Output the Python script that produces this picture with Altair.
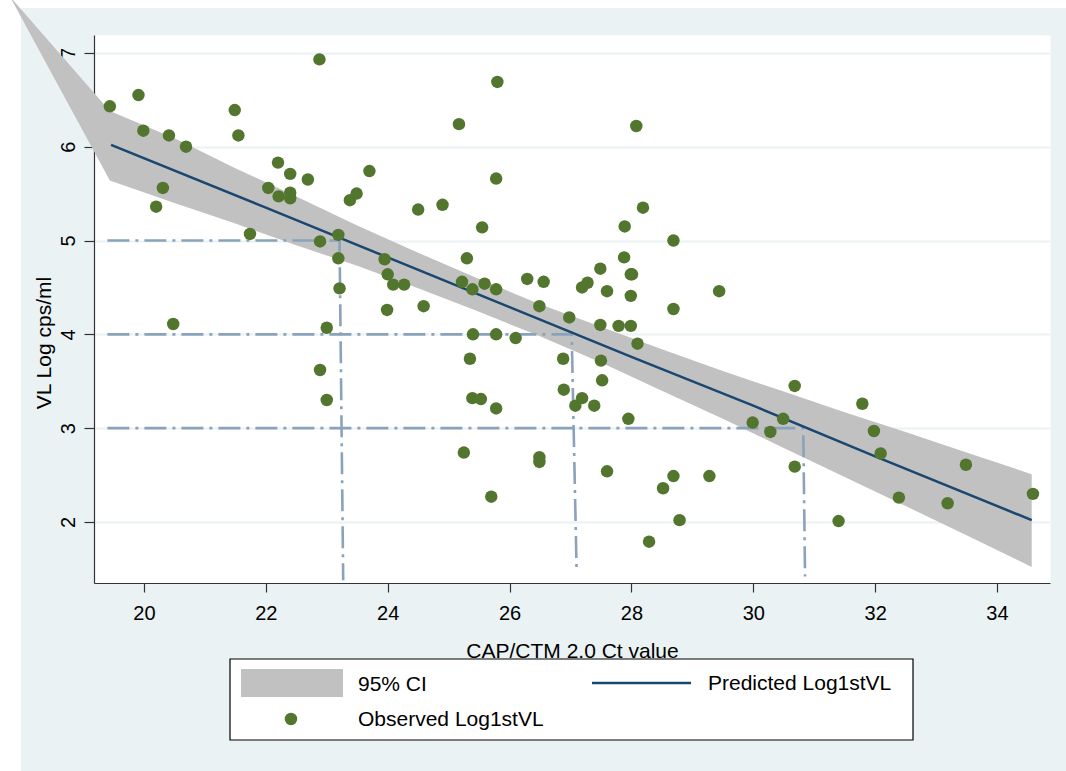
import altair as alt
import pandas as pd

# ---- observed points (Ct value, log viral load) ----
ct_values = [19.44, 19.91, 19.99, 20.41, 20.69, 20.31, 20.20, 20.48, 21.49, 21.55,
             21.74, 22.20, 22.40, 22.04, 22.21, 22.40, 22.40, 22.69, 22.88, 23.19,
             22.89, 23.19, 23.21, 23.00, 22.89, 23.00, 23.38, 23.49, 23.70, 24.50,
             24.90, 25.17, 25.80, 25.78, 25.55, 25.30, 23.95, 24.00, 24.09, 24.27,
             25.22, 25.39, 25.59, 25.78, 26.29, 26.56, 27.19, 27.28, 27.49, 27.60,
             27.88, 27.89, 27.99, 28.01, 27.99, 28.19, 28.08, 28.69, 23.99, 24.59,
             25.40, 25.78, 26.10, 26.49, 26.98, 25.35, 25.39, 25.53, 25.78, 26.88,
             26.89, 27.08, 27.19, 27.39, 27.49, 27.79, 27.99, 28.10, 27.50, 27.52,
             27.95, 28.69, 25.25, 26.49, 26.49, 25.70, 27.60, 28.69, 28.52, 28.79,
             28.29, 29.28, 29.44, 29.99, 30.28, 30.49, 30.68, 30.68, 31.40, 31.79,
             31.98, 32.09, 32.39, 33.19, 33.49, 34.59]
vl_values = [6.43, 6.55, 6.17, 6.12, 6.00, 5.56, 5.36, 4.11, 6.39, 6.12,
             5.07, 5.83, 5.71, 5.56, 5.47, 5.51, 5.45, 5.65, 6.93, 5.06,
             4.99, 4.81, 4.49, 4.07, 3.62, 3.30, 5.43, 5.50, 5.74, 5.33,
             5.38, 6.24, 6.69, 5.66, 5.14, 4.81, 4.80, 4.64, 4.53, 4.53,
             4.56, 4.48, 4.54, 4.48, 4.59, 4.56, 4.50, 4.55, 4.70, 4.46,
             4.82, 5.15, 4.64, 4.64, 4.41, 5.35, 6.22, 5.00, 4.26, 4.30,
             4.00, 4.00, 3.96, 4.30, 4.18, 3.74, 3.32, 3.31, 3.21, 3.74,
             3.41, 3.24, 3.32, 3.24, 4.10, 4.09, 4.09, 3.90, 3.72, 3.51,
             3.10, 4.27, 2.74, 2.69, 2.64, 2.27, 2.54, 2.49, 2.36, 2.02,
             1.79, 2.49, 4.46, 3.06, 2.96, 3.10, 3.45, 2.59, 2.01, 3.26,
             2.97, 2.73, 2.26, 2.20, 2.61, 2.30]

# ---- 95% CI band (first vertex is the stray apex drawn outside the plot) ----
band_x = [17.80, 19.44, 20.5, 21.5, 22.5, 23.5, 24.5, 25.5, 26.5, 27.5,
          28.5, 29.5, 30.5, 31.5, 32.5, 33.5, 34.57]
band_upper = [7.60, 6.38, 6.09, 5.77, 5.47, 5.16, 4.87, 4.59, 4.32, 4.08,
              3.84, 3.61, 3.39, 3.17, 2.96, 2.74, 2.51]
band_lower = [7.60, 5.64, 5.40, 5.18, 4.95, 4.73, 4.49, 4.24, 3.98, 3.70,
              3.40, 3.10, 2.79, 2.48, 2.17, 1.86, 1.52]

# ---- predicted line ----
pred_x = [19.46, 22.0, 24.0, 26.0, 28.0, 30.0, 32.0, 34.57]
pred_y = [6.02, 5.35, 4.82, 4.29, 3.76, 3.24, 2.70, 2.02]

# ---- dash-dot reference lines ----
ref_levels = [5, 4, 3]
ref_start_x = [19.4, 19.4, 19.4]
ref_corner_x = [23.21, 27.02, 30.82]
ref_bottom_x = [23.27, 27.10, 30.85]
ref_bottom_y = [1.38, 1.50, 1.42]

x_ticks = [20, 22, 24, 26, 28, 30, 32, 34]
y_ticks = [2, 3, 4, 5, 6, 7]

FONT = "Liberation Sans"
BG = "#eaf2f3"
GREEN = "#52762e"
NAVY = "#1a476f"
BAND = "#c1c1c1"
REF = "#8aa2ba"

W, H = 956, 548
PAD = {"left": 94, "top": 35, "right": 16, "bottom": 188}

xs = alt.Scale(domain=[19.18, 34.87], nice=False, zero=False)
ys = alt.Scale(domain=[1.35, 7.19], nice=False, zero=False)

xaxis = alt.Axis(values=x_ticks, grid=False, tickSize=9, tickWidth=1.2, tickColor="#333333",
                 domainColor="#333333", domainWidth=1.2, labelPadding=11, labelFontSize=20,
                 labelFont=FONT, labelColor="black", labelOverlap=False,
                 title="CAP/CTM 2.0 Ct value", titleFont=FONT, titleFontSize=21,
                 titleFontWeight="normal", titleColor="black", titleX=478, titleY=74,
                 titleAlign="center", titleBaseline="alphabetic")
yaxis = alt.Axis(values=y_ticks, grid=True, gridColor=BG, gridWidth=2, tickSize=10,
                 tickWidth=1.2, tickColor="#333333", domainColor="#333333", domainWidth=1.2,
                 labelPadding=10, labelFontSize=20, labelFont=FONT, labelColor="black",
                 labelAngle=270, labelAlign="center", labelBaseline="alphabetic",
                 labelOverlap=False,
                 title="VL Log cps/ml", titleFont=FONT, titleFontSize=21,
                 titleFontWeight="normal", titleColor="black", titleAngle=270,
                 titleX=-44, titleY=307.5, titleAlign="center", titleBaseline="alphabetic")


def X(f):
    return alt.X(f, type="quantitative", scale=xs, axis=xaxis)


def Y(f):
    return alt.Y(f, type="quantitative", scale=ys, axis=yaxis)


pts = pd.DataFrame({"ct": ct_values, "vl": vl_values})
band = pd.DataFrame({"bx": band_x, "up": band_upper, "lo": band_lower})
pred = pd.DataFrame({"px": pred_x, "py": pred_y})

rows = []
for i, lev in enumerate(ref_levels):
    rows.append({"rx": ref_start_x[i], "ry": lev, "g": i, "o": 0})
    rows.append({"rx": ref_corner_x[i], "ry": lev, "g": i, "o": 1})
    rows.append({"rx": ref_bottom_x[i], "ry": ref_bottom_y[i], "g": i, "o": 2})
refs = pd.DataFrame(rows)

one = pd.DataFrame({"a": [0]})

# white margins around the coloured page area (top and left strips)
strip_top = alt.Chart(one).mark_rect(fill="white", clip=False).encode(
    x=alt.value(-94), x2=alt.value(972), y=alt.value(-35), y2=alt.value(-27))
strip_left = alt.Chart(one).mark_rect(fill="white", clip=False).encode(
    x=alt.value(-94), x2=alt.value(-73), y=alt.value(-35), y2=alt.value(736))

band_layer = alt.Chart(band).mark_area(color=BAND, opacity=1, clip=False).encode(
    x=X("bx"), y=Y("up"), y2=alt.Y2("lo"))

ref_layer = alt.Chart(refs).mark_line(color=REF, strokeWidth=2.6,
                                      strokeDash=[22, 6, 3, 6]).encode(
    x=X("rx"), y=Y("ry"), detail="g:N", order="o:Q")

pred_layer = alt.Chart(pred).mark_line(color=NAVY, strokeWidth=2.5).encode(
    x=X("px"), y=Y("py"))

pt_layer = alt.Chart(pts).mark_circle(color=GREEN, size=155, opacity=1).encode(
    x=X("ct"), y=Y("vl"))

# manual legend
leg_box = alt.Chart(one).mark_rect(fill="white", stroke="black", strokeWidth=1.2,
                                   clip=False).encode(
    x=alt.value(136), x2=alt.value(819), y=alt.value(624), y2=alt.value(705))
leg_swatch = alt.Chart(one).mark_rect(fill=BAND, clip=False).encode(
    x=alt.value(147), x2=alt.value(249), y=alt.value(634), y2=alt.value(662))
leg_line = alt.Chart(one).mark_rule(color=NAVY, strokeWidth=2.5, clip=False).encode(
    x=alt.value(498), x2=alt.value(597), y=alt.value(648))
leg_dot = alt.Chart(one).mark_circle(color=GREEN, size=155, opacity=1, clip=False).encode(
    x=alt.value(197), y=alt.value(684))


def leg_text(t, x, y):
    return alt.Chart(one).mark_text(text=t, font=FONT, fontSize=21, align="left",
                                    baseline="middle", color="black", clip=False).encode(
        x=alt.value(x), y=alt.value(y))


chart = alt.layer(
    strip_top, strip_left, band_layer, ref_layer, pred_layer, pt_layer,
    leg_box, leg_swatch, leg_line, leg_dot,
    leg_text("95% CI", 264, 650),
    leg_text("Predicted Log1stVL", 614, 649),
    leg_text("Observed Log1stVL", 264, 685),
).properties(
    width=W, height=H, background=BG, padding=PAD,
    autosize=alt.AutoSizeParams(type="none"),
).configure_view(fill="white", stroke="transparent")

chart.save("out.html", embed_options={"renderer": "svg", "actions": False})
